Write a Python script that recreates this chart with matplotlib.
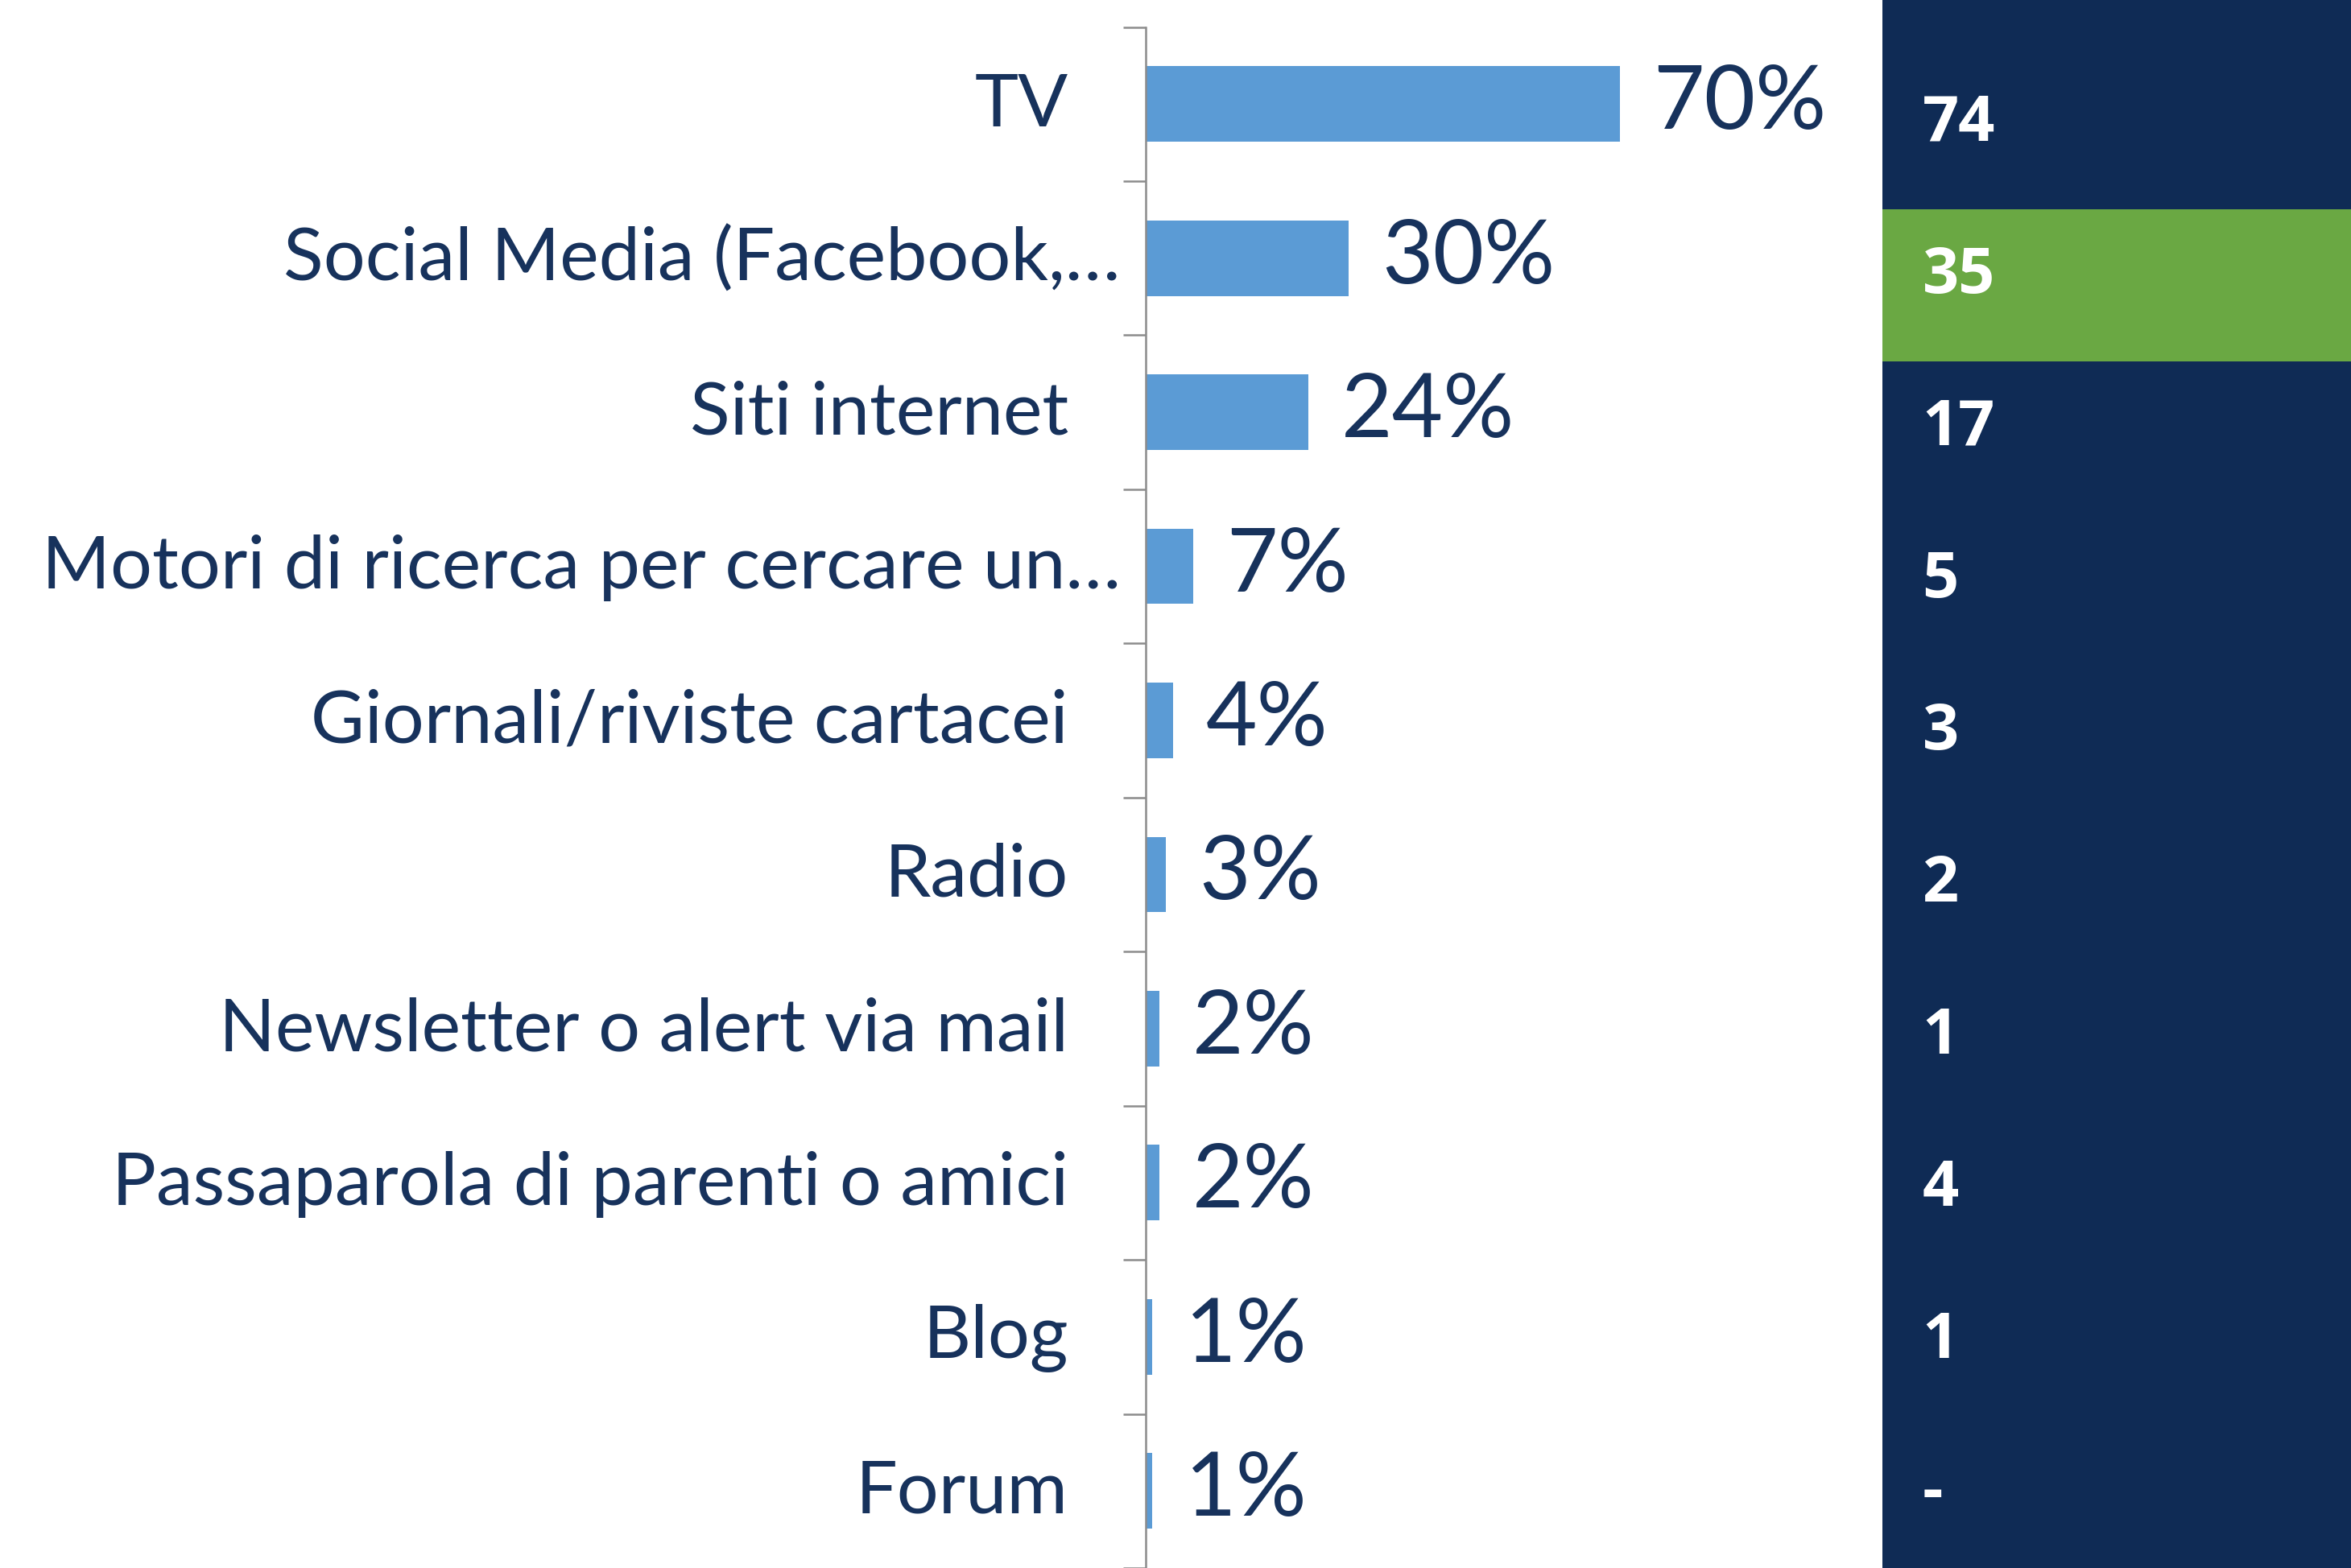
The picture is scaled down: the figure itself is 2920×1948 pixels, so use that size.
import matplotlib
matplotlib.use("Agg")
import matplotlib.pyplot as plt
from matplotlib import transforms

categories = ["TV", "Social Media (Facebook,…", "Siti internet",
              "Motori di ricerca per cercare un…", "Giornali/riviste cartacei",
              "Radio", "Newsletter o alert via mail", "Passaparola di parenti o amici",
              "Blog", "Forum"]
values = [70, 30, 24, 7, 4, 3, 2, 2, 1, 1]
value_labels = ["70%", "30%", "24%", "7%", "4%", "3%", "2%", "2%", "1%", "1%"]
side_values = ["74", "35", "17", "5", "3", "2", "1", "4", "1", "-"]
highlight_index = 1

BAR = "#5B9BD5"
TEXT = "#17325C"
NAVY = "#0F2B55"
GREEN = "#6AA843"
GRAY = "#8C8C8C"

fig = plt.figure(figsize=(14.6, 9.74), dpi=200)
fig.patch.set_facecolor("white")

# main bar axes
ax = fig.add_axes([0.4873, 0.0, 0.3134, 0.9828])
n = len(categories)
pos = list(range(n))
ax.barh(pos, values, height=0.49, color=BAR, edgecolor="none")
ax.set_xlim(0, 108.7)
ax.set_ylim(n - 0.5, -0.5)
for s in ["top", "right", "bottom"]:
    ax.spines[s].set_visible(False)
ax.spines["left"].set_color(GRAY)
ax.spines["left"].set_linewidth(0.9)
ax.set_xticks([])
ax.set_yticks([i - 0.5 for i in range(n + 1)])
ax.set_yticklabels([])
ax.tick_params(axis="y", length=10, width=0.9, color=GRAY, direction="out")
ax.set_facecolor("none")

trans = transforms.blended_transform_factory(ax.transAxes, ax.transData)
for i, (cat, v, lab) in enumerate(zip(categories, values, value_labels)):
    xoff = -0.034 if cat.endswith("…") else -0.105
    ax.text(xoff, i + 0.01, cat, transform=trans, ha="right", va="center",
            fontsize=33, family=["Lato", "DejaVu Sans"], color=TEXT)
    ax.annotate(lab, xy=(v, i), xytext=(14.8, 0), textcoords="offset points",
                ha="left", va="center", fontsize=39.5, family=["Lato", "DejaVu Sans"],
                color=TEXT)

# right side panel
ax2 = fig.add_axes([0.8007, 0.0, 0.1993, 1.0])
ax2.set_facecolor(NAVY)
ax2.set_xlim(0, 1)
ax2.set_ylim(9.431, -0.876)
ax2.barh([highlight_index], [1], height=1.0, left=0, color=GREEN, edgecolor="none")
for s in ax2.spines.values():
    s.set_visible(False)
ax2.set_xticks([])
ax2.set_yticks([])
for i, sv in enumerate(side_values):
    ax2.text(0.085, i - 0.06, sv, ha="left", va="center", fontsize=28.5,
             fontweight="bold", family=["Open Sans", "DejaVu Sans"], color="white")

fig.savefig("out.png", dpi=200)
